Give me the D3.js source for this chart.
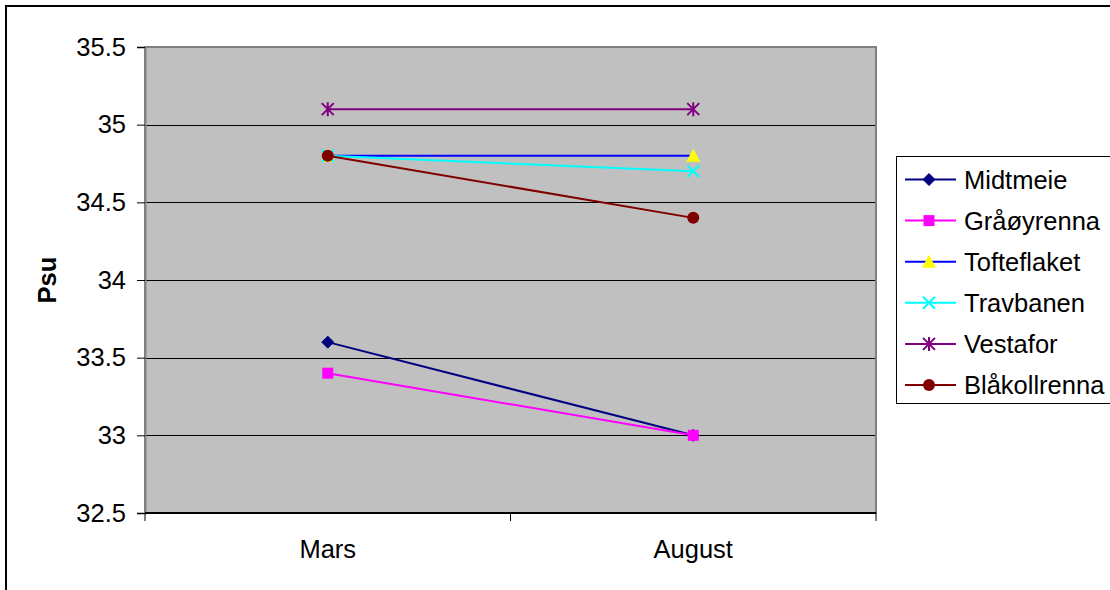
<!DOCTYPE html>
<html><head><meta charset="utf-8">
<script src="https://cdn.jsdelivr.net/npm/d3@7"></script>
<style>body{margin:0;background:#fff}svg{display:block;font-family:Arial,"Liberation Sans",sans-serif}</style>
</head><body>
<svg id="c" width="1110" height="590"></svg>
<script>
const categories = ["Mars", "August"];
const seriesNames = ["Midtmeie", "Gråøyrenna", "Tofteflaket", "Travbanen", "Vestafor", "Blåkollrenna"];
const midtmeie = [33.6, 33.0];
const graoyrenna = [33.4, 33.0];
const tofteflaket = [34.8, 34.8];
const travbanen = [34.8, 34.7];
const vestafor = [35.1, 35.1];
const blakollrenna = [34.8, 34.4];
const yTicks = [32.5, 33, 33.5, 34, 34.5, 35, 35.5];
const yTitle = "Psu";

const lineColors = ["#000080", "#FF00FF", "#0000FF", "#00FFFF", "#800080", "#800000"];
const markerFill = ["#000080", "#FF00FF", "#FFFF00", "none", "none", "#800000"];
const markerType = ["diamond", "square", "triangle", "x", "asterisk", "circle"];
const values = [midtmeie, graoyrenna, tofteflaket, travbanen, vestafor, blakollrenna];

const svg = d3.select("#c");
const L = 145, R = 876, T = 47, B = 513;
const FS = 25.5;

// outer border
svg.append("rect").attr("x", 6).attr("y", 6).attr("width", 1120).attr("height", 600)
  .attr("fill", "#fff").attr("stroke", "#000").attr("stroke-width", 2);

const x = d3.scaleBand().domain(categories).range([L, R]).padding(0);
const y = d3.scaleLinear().domain([32.5, 35.5]).range([B, T]);

// plot area
svg.append("rect").attr("x", L).attr("y", T).attr("width", R - L).attr("height", B - T)
  .attr("fill", "#C0C0C0");

// gridlines
svg.append("g").selectAll("line").data(yTicks.filter(v => v > 32.5 && v < 35.5)).join("line")
  .attr("x1", L).attr("x2", R).attr("y1", d => Math.round(y(d)) + 0.5).attr("y2", d => Math.round(y(d)) + 0.5)
  .attr("stroke", "#000").attr("stroke-width", 1);

// plot border
svg.append("rect").attr("x", L).attr("y", T).attr("width", R - L).attr("height", B - T)
  .attr("fill", "none").attr("stroke", "#808080").attr("stroke-width", 2);

// y axis
const yAxis = d3.axisLeft(y).tickValues(yTicks).tickSize(8).tickPadding(11).tickFormat(d3.format("~g"));
const gy = svg.append("g").attr("transform", `translate(${L},0)`).call(yAxis);
gy.select(".domain").attr("stroke", "#808080").attr("stroke-width", 2);
gy.selectAll(".tick line").attr("stroke", "#000");
gy.selectAll("text").attr("font-size", FS).attr("fill", "#000").attr("font-family", "Arial, 'Liberation Sans', sans-serif");

// x axis
const gx = svg.append("g").attr("transform", `translate(0,${B})`);
gx.append("line").attr("x1", L).attr("x2", R).attr("y1", 0).attr("y2", 0).attr("stroke", "#000").attr("stroke-width", 2);
const xEdges = [L, ...categories.map(c => x(c) + x.bandwidth())];
gx.selectAll(".xt").data(xEdges).join("line").attr("class", "xt")
  .attr("x1", d => d).attr("x2", d => d).attr("y1", 0).attr("y2", 8).attr("stroke", "#000");
gx.selectAll("text").data(categories).join("text")
  .attr("x", d => x(d) + x.bandwidth() / 2).attr("y", 45).attr("text-anchor", "middle")
  .attr("font-size", FS).attr("fill", "#000").text(d => d);

// y title
svg.append("text").attr("transform", `translate(56,${(T + B) / 2}) rotate(-90)`)
  .attr("text-anchor", "middle").attr("font-size", FS).attr("font-weight", "bold").text(yTitle);

function drawMarker(g, type, cx, cy, stroke, fill) {
  const s = 6;
  if (type === "diamond") {
    g.append("path").attr("d", `M${cx},${cy - s}L${cx + s},${cy}L${cx},${cy + s}L${cx - s},${cy}Z`).attr("fill", fill).attr("stroke", stroke).attr("stroke-width", 1);
  } else if (type === "square") {
    g.append("rect").attr("x", cx - 5.5).attr("y", cy - 5.5).attr("width", 11).attr("height", 11).attr("fill", fill);
  } else if (type === "triangle") {
    g.append("path").attr("d", `M${cx},${cy - 7}L${cx + 7},${cy + 6}L${cx - 7},${cy + 6}Z`).attr("fill", fill);
  } else if (type === "x") {
    g.append("path").attr("d", `M${cx - s},${cy - s}L${cx + s},${cy + s}M${cx + s},${cy - s}L${cx - s},${cy + s}`).attr("stroke", stroke).attr("stroke-width", 2).attr("fill", "none");
  } else if (type === "asterisk") {
    g.append("path").attr("d", `M${cx - s},${cy - s}L${cx + s},${cy + s}M${cx + s},${cy - s}L${cx - s},${cy + s}M${cx},${cy - s - 1}L${cx},${cy + s + 1}`).attr("stroke", stroke).attr("stroke-width", 2).attr("fill", "none");
  } else if (type === "circle") {
    g.append("circle").attr("cx", cx).attr("cy", cy).attr("r", 6).attr("fill", fill);
  }
}

const line = d3.line().x((d, i) => x(categories[i]) + x.bandwidth() / 2).y(d => y(d));
values.forEach((vals, si) => {
  const g = svg.append("g");
  g.append("path").datum(vals).attr("d", line).attr("fill", "none").attr("stroke", lineColors[si]).attr("stroke-width", 2);
  vals.forEach((v, i) => drawMarker(g, markerType[si], x(categories[i]) + x.bandwidth() / 2, y(v), lineColors[si], markerFill[si]));
});

// legend
const lg = svg.append("g");
lg.append("rect").attr("x", 896.5).attr("y", 156.5).attr("width", 230).attr("height", 247)
  .attr("fill", "#fff").attr("stroke", "#000").attr("stroke-width", 1);
const legY = d3.scalePoint().domain(seriesNames).range([179.5, 385]);
seriesNames.forEach((n, si) => {
  const cy = legY(n);
  lg.append("line").attr("x1", 905).attr("x2", 956).attr("y1", cy).attr("y2", cy).attr("stroke", lineColors[si]).attr("stroke-width", 2);
  drawMarker(lg, markerType[si], 929, cy, lineColors[si], markerFill[si]);
  lg.append("text").attr("x", 964).attr("y", cy + 9).attr("font-size", FS).attr("fill", "#000").text(n);
});
</script>
</body></html>
